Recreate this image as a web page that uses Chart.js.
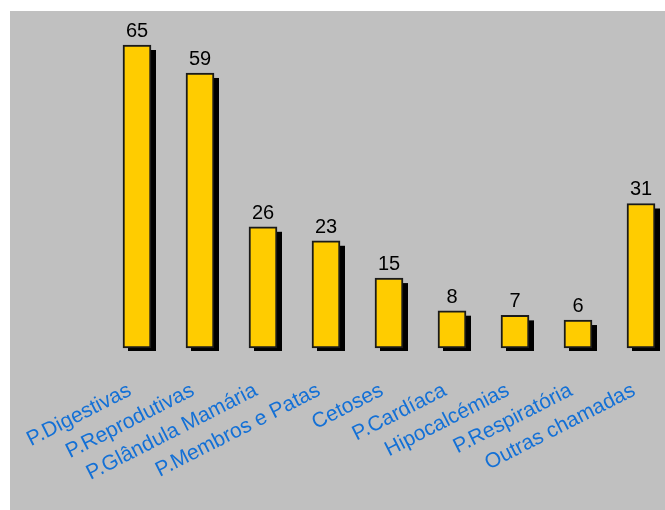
<!DOCTYPE html>
<html>
<head>
<meta charset="utf-8">
<script src="https://cdn.jsdelivr.net/npm/chart.js@4/dist/chart.umd.min.js"></script>
<style>
  body { margin: 0; background: #fff; }
  .panel { position: absolute; left: 10px; top: 11px; width: 655px; height: 499px; background: #c0c0c0; }
</style>
</head>
<body>
<div class="panel"><canvas id="casesChart" width="655" height="499"></canvas></div>
<script>
const categories = [
  "P.Digestivas",
  "P.Reprodutivas",
  "P.Glândula Mamária",
  "P.Membros e Patas",
  "Cetoses",
  "P.Cardíaca",
  "Hipocalcémias",
  "P.Respiratória",
  "Outras chamadas"
];
const cases = [65, 59, 26, 23, 15, 8, 7, 6, 31];

// black drop shadow behind each bar (right and down)
const barShadow = {
  id: "barShadow",
  beforeDatasetDraw(chart) {
    const ctx = chart.ctx;
    const meta = chart.getDatasetMeta(0);
    ctx.save();
    ctx.fillStyle = "#000000";
    meta.data.forEach((bar) => {
      const p = bar.getProps(["x", "y", "base", "width"], true);
      ctx.fillRect(p.x - p.width / 2 + 5, p.y + 5, p.width, p.base - p.y - 2);
    });
    ctx.restore();
  }
};

// value labels above each bar
const valueLabels = {
  id: "valueLabels",
  afterDatasetsDraw(chart) {
    const ctx = chart.ctx;
    const meta = chart.getDatasetMeta(0);
    ctx.save();
    ctx.font = "20px 'Liberation Sans', Arial, sans-serif";
    ctx.fillStyle = "#000000";
    ctx.textAlign = "center";
    ctx.textBaseline = "alphabetic";
    meta.data.forEach((bar, i) => {
      ctx.fillText(cases[i], bar.x, bar.y - 8);
    });
    ctx.restore();
  }
};

new Chart("casesChart", {
  type: "bar",
  data: {
    labels: categories,
    datasets: [
      {
        data: cases,
        backgroundColor: "#ffcc00",
        borderColor: "#1a1a1a",
        borderWidth: 2,
        borderSkipped: false,
        barThickness: 28,
        clip: false
      }
    ]
  },
  options: {
    responsive: false,
    animation: false,
    layout: { padding: { top: 34, left: 127, right: 24, bottom: 0 } },
    plugins: {
      legend: { display: false },
      tooltip: { enabled: false }
    },
    scales: {
      x: {
        offset: false,
        grid: { display: false, drawTicks: false },
        border: { display: false },
        afterFit(scale) {
          // let the layout padding alone decide where the first/last bars sit
          scale.paddingLeft = 0;
          scale.paddingRight = 0;
          scale.height = 162;
        },
        ticks: {
          autoSkip: false,
          minRotation: 27,
          maxRotation: 27,
          padding: 30,
          labelOffset: -7,
          color: "#1370d6",
          font: { family: "'Liberation Sans', Arial, sans-serif", size: 21 }
        }
      },
      y: {
        display: false,
        min: 0,
        max: 65
      }
    }
  },
  plugins: [barShadow, valueLabels]
});
</script>
</body>
</html>
